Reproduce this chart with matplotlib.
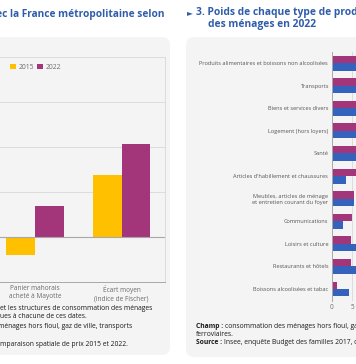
import numpy as np
import matplotlib.pyplot as plt
from matplotlib.patches import FancyBboxPatch

plt.rcParams["font.family"] = ["Open Sans", "DejaVu Sans"]

# left chart: price gap between Mayotte and France métropolitaine (%)
gap_labels = ["Panier mahorais\nacheté à Mayotte", "Écart moyen\n(indice de Fischer)"]
gap_years = ["2015", "2022"]
gap_2015 = [-2.0, 6.9]
gap_2022 = [3.4, 10.3]

# right chart: weight of each product type in household consumption, 2022 (%)
weight_labels = [
    "Produits alimentaires et boissons non alcoolisées",
    "Transports",
    "Biens et services divers",
    "Logement (hors loyers)",
    "Santé",
    "Articles d'habillement et chaussures",
    "Meubles, articles de ménage\net entretien courant du foyer",
    "Communications",
    "Loisirs et culture",
    "Restaurants et hôtels",
    "Boissons alcoolisées et tabac",
]
weight_mayotte = [24.0, 15.0, 12.0, 10.0, 8.0, 8.0, 5.5, 5.1, 4.8, 4.7, 1.3]
weight_france = [16.0, 14.0, 13.0, 9.0, 11.0, 3.5, 5.5, 2.7, 8.0, 7.0, 4.3]

GOLD = "#ffc000"
PURPLE = "#a3357a"
BLUE = "#3462bd"
TITLE = "#2f5dab"
CARD = "#f4f4f4"

W, H = 356, 364
fig = plt.figure(figsize=(W / 100, H / 100), dpi=100)
fig.patch.set_facecolor("white")


def box(x, y, w, h):
    # pixel box (top-left origin) -> figure fraction
    return [x / W, 1 - (y + h) / H, w / W, h / H]


# background layer in pixel coordinates
bg = fig.add_axes([0, 0, 1, 1], zorder=-1)
bg.set_xlim(0, W)
bg.set_ylim(H, 0)
bg.axis("off")
for x0, x1, y0, y1 in [(-30, 170, 37, 355), (186, 420, 37, 357)]:
    bg.add_patch(FancyBboxPatch((x0, y0), x1 - x0, y1 - y0,
                                boxstyle="round,pad=0,rounding_size=8",
                                fc=CARD, ec="none"))

# titles
bg.text(164, 13, "Écart de prix avec la France métropolitaine selon", ha="right",
        va="center", fontsize=7.3, fontweight="bold", color=TITLE)
bg.text(186.5, 13, "►", ha="left", va="center", fontsize=5.5, color=TITLE,
        family=["DejaVu Sans"])
bg.text(196, 13, "3. Poids de chaque type de produits dans la consommation",
        ha="left", va="center", fontsize=7.4, fontweight="bold", color=TITLE)
bg.text(208.5, 24.5, "des ménages en 2022", ha="left", va="center",
        fontsize=7.4, fontweight="bold", color=TITLE)

# left notes (cut by the page edge)
left_notes = [
    (308, 0, "et les structures de consommation des ménages"),
    (317, 0, "ues à chacune de ces dates."),
    (326, -2, "ménages hors fioul, gaz de ville, transports"),
    (344, 0, "mparaison spatiale de prix 2015 et 2022."),
]
for y, x, s in left_notes:
    bg.text(x, y, s, ha="left", va="center", fontsize=4.85, color="#1a1a1a")


# right notes
def note(y, bold, rest):
    t = bg.text(196, y, bold, ha="left", va="center", fontsize=4.9,
                fontweight="bold", color="#1a1a1a")
    if rest:
        bg.annotate(rest, xy=(1, 0.5), xycoords=t, xytext=(1.5, 0),
                    textcoords="offset points", ha="left", va="center",
                    fontsize=4.9, color="#1a1a1a")


note(327, "Champ :", "consommation des ménages hors fioul, gaz de ville, transports")
bg.text(196, 335, "ferroviaires.", ha="left", va="center", fontsize=4.9,
        color="#1a1a1a")
note(342, "Source :", "Insee, enquête Budget des familles 2017, comparaison spatiale de prix 2022.")

# ---- left chart
ax1 = fig.add_axes(box(-8.5, 57, 173.5, 225))
ax1.patch.set_alpha(0)
x = np.arange(len(gap_labels))
w = 0.33
ax1.bar(x - w / 2, gap_2015, w, color=GOLD, label=gap_years[0], zorder=2)
ax1.bar(x + w / 2, gap_2022, w, color=PURPLE, label=gap_years[1], zorder=2)
ax1.axhline(0, color="#a8a8a8", lw=0.8, zorder=3)
ax1.set_xlim(-0.5, 1.5)
ax1.set_ylim(-5, 20)
ax1.set_yticks(range(-5, 21, 5))
ax1.yaxis.grid(True, color="#dcdcdc", lw=0.7)
ax1.set_axisbelow(True)
ax1.set_xticks(x, gap_labels)
ax1.tick_params(axis="x", length=0, pad=2.5, labelsize=4.7, labelcolor="#6b6b6b")
ax1.tick_params(axis="y", length=0, labelsize=4.7, labelcolor="#6b6b6b")
ax1.spines["left"].set_visible(False)
ax1.spines["top"].set_color("#dcdcdc")
ax1.spines["right"].set_color("#dcdcdc")
ax1.spines["bottom"].set_color("#a8a8a8")
for s in ax1.spines.values():
    s.set_linewidth(0.7)
leg = ax1.legend(loc="upper left", bbox_to_anchor=(10 / W, 1 - 63.5 / H),
                 bbox_transform=fig.transFigure, frameon=False, ncol=2,
                 fontsize=4.9, handlelength=0.9, handleheight=0.9,
                 handletextpad=0.3, columnspacing=0.5, borderaxespad=0,
                 borderpad=0)
for t in leg.get_texts():
    t.set_color("#6b6b6b")

# ---- right chart
ax2 = fig.add_axes(box(332, 52, 120, 249))
ax2.patch.set_alpha(0)
y = np.arange(len(weight_labels))
h = 0.33
ax2.barh(y - h / 2, weight_mayotte, h, color=PURPLE, zorder=2)
ax2.barh(y + h / 2, weight_france, h, color=BLUE, zorder=2)
ax2.set_xlim(0, 30)
ax2.set_ylim(10.53, -0.49)
ax2.set_xticks(range(0, 31, 5))
ax2.set_yticks(y, weight_labels)
ax2.xaxis.grid(True, color="#dcdcdc", lw=0.7)
ax2.set_axisbelow(True)
ax2.tick_params(axis="x", length=0, pad=2, labelsize=4.7, labelcolor="#6b6b6b")
ax2.tick_params(axis="y", length=0, pad=2.8, labelsize=4.05, labelcolor="#555555")
for side in ["top", "right", "bottom"]:
    ax2.spines[side].set_visible(False)
ax2.spines["left"].set_color("#a8a8a8")
ax2.spines["left"].set_linewidth(0.7)

fig.savefig("out.png", dpi=100)
